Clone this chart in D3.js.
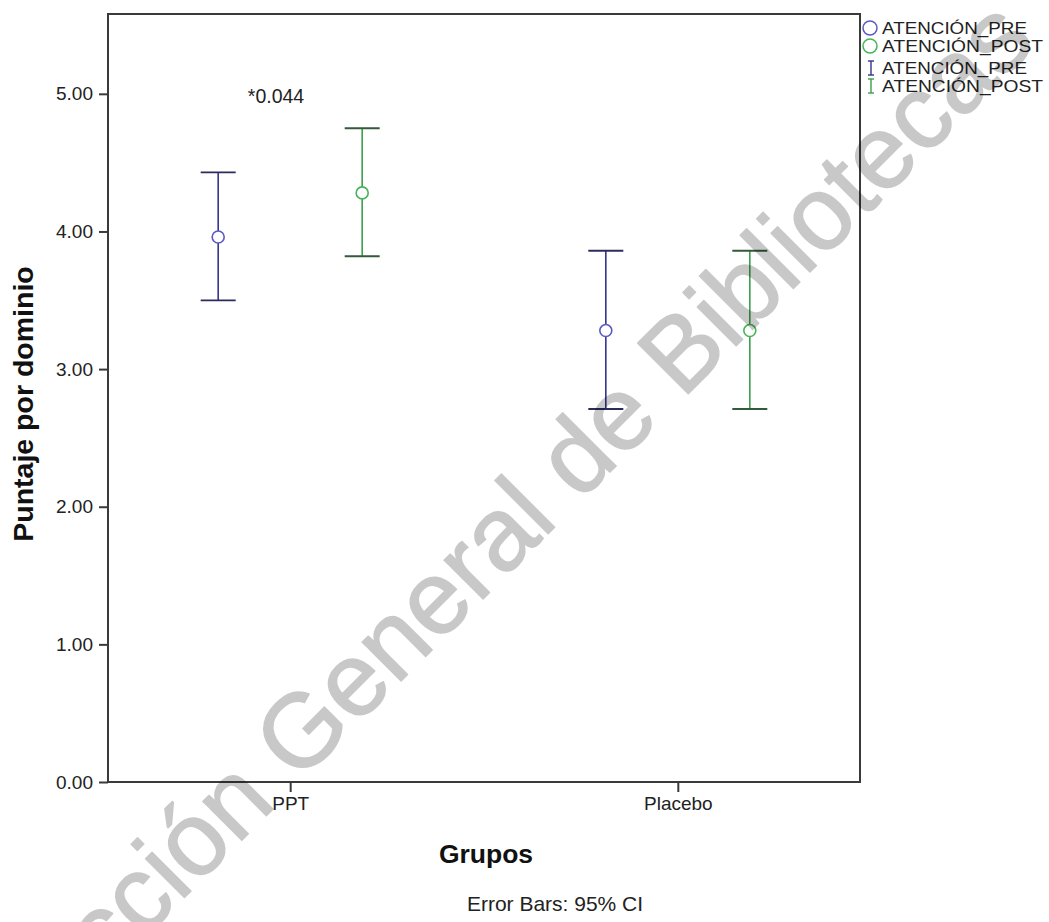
<!DOCTYPE html>
<html><head><meta charset="utf-8">
<script src="https://cdn.jsdelivr.net/npm/d3@7"></script>
<style>
body{margin:0;background:#fff;}
text{font-family:"Liberation Sans",Arial,sans-serif;}
</style></head>
<body>
<svg id="c" width="1049" height="922"></svg>
<script>
const categories = ["PPT", "Placebo"];
const seriesNames = ["ATENCIÓN_PRE", "ATENCIÓN_POST"];
const preMean  = [3.96, 3.28];
const preLow   = [3.50, 2.71];
const preHigh  = [4.43, 3.86];
const postMean = [4.28, 3.28];
const postLow  = [3.82, 2.71];
const postHigh = [4.75, 3.86];
const yTicks = [0, 1, 2, 3, 4, 5];
const annotation = "*0.044";
const watermark = "Dirección General de Bibliotecas";

const svg = d3.select("#c");
const L = 108, R = 860, T = 14, B = 782;
const y = d3.scaleLinear().domain([0, 5.58]).range([B, T]);
const x = d3.scalePoint().domain(categories).range([L, R]).padding(0.47);
const xs = d3.scalePoint().domain(seriesNames).range([-72, 72]);

const colors = {
  "ATENCIÓN_PRE":  {line:"#34348c", circ:"#5a5ac0", cap:"#2c2c5c"},
  "ATENCIÓN_POST": {line:"#3e9e4c", circ:"#48b458", cap:"#345a3c"}
};

const data = [];
categories.forEach((c,i)=>{
  data.push({cat:c, s:seriesNames[0], m:preMean[i], lo:preLow[i], hi:preHigh[i]});
  data.push({cat:c, s:seriesNames[1], m:postMean[i], lo:postLow[i], hi:postHigh[i]});
});

// frame
svg.append("rect").attr("x",L).attr("y",T).attr("width",R-L).attr("height",B-T)
  .attr("fill","none").attr("stroke","#3a3a3a").attr("stroke-width",2);

// y axis
const ya = svg.append("g").attr("transform",`translate(${L},0)`)
  .call(d3.axisLeft(y).tickValues(yTicks).tickFormat(d3.format(".2f")).tickSize(9).tickPadding(6));
ya.select(".domain").remove();
ya.selectAll("line").attr("stroke","#3a3a3a").attr("stroke-width",2);
ya.selectAll("text").attr("font-size",19).attr("fill","#222");

// x axis
const xa = svg.append("g").attr("transform",`translate(0,${B})`)
  .call(d3.axisBottom(x).tickSize(10).tickPadding(5));
xa.select(".domain").remove();
xa.selectAll("line").attr("stroke","#3a3a3a").attr("stroke-width",2);
xa.selectAll("text").attr("font-size",19).attr("fill","#222");

// error bars
const g = svg.append("g");
const capW = 17.5;
data.forEach(d=>{
  const cx = x(d.cat) + xs(d.s);
  const c = colors[d.s];
  g.append("line").attr("x1",cx).attr("x2",cx).attr("y1",y(d.hi)).attr("y2",y(d.lo))
    .attr("stroke",c.line).attr("stroke-width",1.6);
  [d.hi, d.lo].forEach(v=>{
    g.append("line").attr("x1",cx-capW).attr("x2",cx+capW).attr("y1",y(v)).attr("y2",y(v))
      .attr("stroke",c.cap).attr("stroke-width",1.8);
  });
  g.append("circle").attr("cx",cx).attr("cy",y(d.m)).attr("r",6)
    .attr("fill","#fff").attr("stroke",c.circ).attr("stroke-width",1.6);
});

// annotation
svg.append("text").attr("x",276).attr("y",103).attr("text-anchor","middle")
  .attr("font-size",19.5).attr("fill","#222").text(annotation);

// axis titles
svg.append("text").attr("transform","translate(33,404) rotate(-90)").attr("text-anchor","middle")
  .attr("font-size",28.5).attr("font-weight","bold").attr("fill","#111").text("Puntaje por dominio");
svg.append("text").attr("x",486).attr("y",863).attr("text-anchor","middle")
  .attr("font-size",26.5).attr("font-weight","bold").attr("fill","#111").text("Grupos");
svg.append("text").attr("x",555).attr("y",911).attr("text-anchor","middle")
  .attr("font-size",21).attr("fill","#222").text("Error Bars: 95% CI");

// legend
const lg = svg.append("g");
const lgY = [28, 46, 68, 86];
const lgLen = {"ATENCIÓN_PRE":145, "ATENCIÓN_POST":161};
seriesNames.forEach((s,i)=>{
  lg.append("circle").attr("cx",870).attr("cy",lgY[i]).attr("r",7)
    .attr("fill","none").attr("stroke",colors[s].circ).attr("stroke-width",1.5);
  lg.append("text").attr("x",882).attr("y",lgY[i]+6).attr("font-size",17)
    .attr("textLength",lgLen[s]).attr("lengthAdjust","spacingAndGlyphs").attr("fill","#222").text(s);
});
seriesNames.forEach((s,i)=>{
  const cy = lgY[i+2];
  const c = colors[s];
  lg.append("line").attr("x1",871).attr("x2",871).attr("y1",cy-7).attr("y2",cy+7).attr("stroke",c.line).attr("stroke-width",1.4);
  lg.append("line").attr("x1",868).attr("x2",874).attr("y1",cy-7).attr("y2",cy-7).attr("stroke",c.line).attr("stroke-width",1.4);
  lg.append("line").attr("x1",868).attr("x2",874).attr("y1",cy+7).attr("y2",cy+7).attr("stroke",c.line).attr("stroke-width",1.4);
  lg.append("text").attr("x",882).attr("y",cy+6).attr("font-size",17)
    .attr("textLength",lgLen[s]).attr("lengthAdjust","spacingAndGlyphs").attr("fill","#222").text(s);
});

// watermark
const wg = svg.append("g").attr("opacity",0.21);
const wm = wg.append("text").attr("transform","translate(298,784) rotate(-45)")
  .attr("font-size",104).attr("fill","#000").attr("stroke","#000").attr("stroke-width",1.5)
  .attr("stroke-linejoin","round").text(watermark);
const pre = wm.node().getSubStringLength(0, 10);
wm.attr("x", -pre);
</script>
</body></html>
